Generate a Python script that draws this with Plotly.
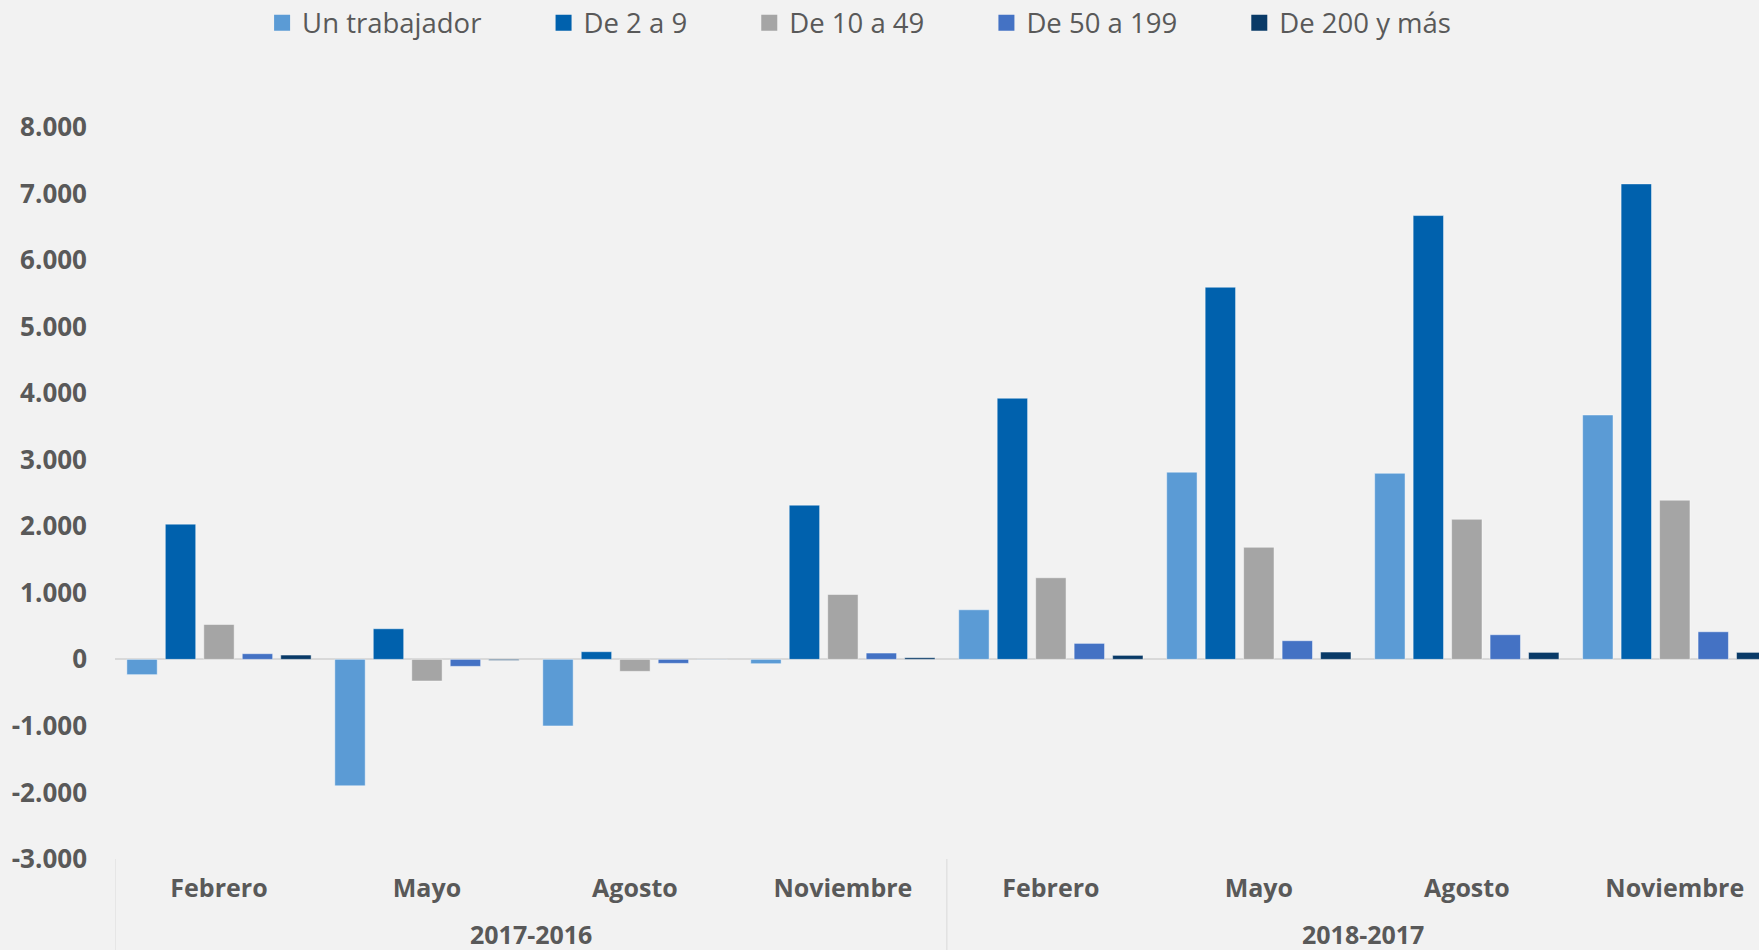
import plotly.graph_objects as go

months = ["Febrero", "Mayo", "Agosto", "Noviembre", "Febrero", "Mayo", "Agosto", "Noviembre"]
periods = ["2017-2016", "2018-2017"]
series_names = ["Un trabajador", "De 2 a 9", "De 10 a 49", "De 50 a 199", "De 200 y más"]

un_trabajador = [-230, -1900, -1000, -65, 745, 2813, 2796, 3672]
de_2_a_9 = [2032, 460, 115, 2317, 3924, 5592, 6669, 7145]
de_10_a_49 = [525, -325, -180, 976, 1226, 1684, 2105, 2392]
de_50_a_199 = [85, -105, -60, 95, 240, 280, 370, 415]
de_200_y_mas = [65, -15, -5, 25, 60, 110, 105, 105]

y_ticks = list(range(-3000, 8001, 1000))

colors = ["#5B9BD5", "#0061AD", "#A5A5A5", "#4472C4", "#093A67"]
series_values = [un_trabajador, de_2_a_9, de_10_a_49, de_50_a_199, de_200_y_mas]

x_pos = list(range(len(months)))
font_fam = "Open Sans"
txt_color = "#595959"

fig = go.Figure()
for name, vals, col in zip(series_names, series_values, colors):
    fig.add_trace(go.Bar(
        x=x_pos, y=vals, name=name, marker_color=col,
        marker_line=dict(color="rgba(255,255,255,0.45)", width=1),
        showlegend=False, legendgroup=name,
    ))
for i, (name, col) in enumerate(zip(series_names, colors)):
    label = name if i == len(series_names) - 1 else name + "\u00a0" * 8
    fig.add_trace(go.Scatter(
        x=[None], y=[None], mode="markers", name=label, legendgroup=name,
        marker=dict(symbol="square", size=16, color=col),
    ))


def fmt(v):
    s = f"{abs(v):,}".replace(",", ".")
    return ("-" if v < 0 else "") + s


fig.update_layout(
    width=1759, height=950,
    paper_bgcolor="#F2F2F2", plot_bgcolor="#F2F2F2",
    margin=dict(l=115, r=0, t=127, b=91, autoexpand=False),
    barmode="group", bargap=0.075, bargroupgap=0.21,
    legend=dict(orientation="h", xref="container", x=0.149, xanchor="left",
                yref="container", y=0.976, yanchor="middle",
                font=dict(family=font_fam, size=27.5, color=txt_color),
                bgcolor="rgba(0,0,0,0)", itemclick=False),
    xaxis=dict(range=[-0.5, 7.405], tickvals=x_pos, ticktext=months,
               showgrid=False, zeroline=False, showline=False, ticks="",
               ticklabelstandoff=12,
               tickfont=dict(family=font_fam, size=25, color=txt_color, weight="bold")),
    yaxis=dict(range=[-3000, 8000], tickvals=y_ticks, ticktext=[fmt(v) for v in y_ticks],
               showgrid=False, zeroline=True, zerolinecolor="#D9D9D9", zerolinewidth=2,
               showline=False, ticks="", ticklabelstandoff=27,
               tickfont=dict(family=font_fam, size=26, color=txt_color, weight="bold")),
)

# period labels and dividers below the axis
n_per = len(months) // len(periods)
for k, p in enumerate(periods):
    fig.add_annotation(x=k * n_per + (n_per - 1) / 2, xref="x", y=-0.103, yref="paper",
                       text=p, showarrow=False, yanchor="middle",
                       font=dict(family=font_fam, size=25, color=txt_color, weight="bold"))
    fig.add_shape(type="line", xref="x", yref="paper", x0=k * n_per - 0.5, x1=k * n_per - 0.5,
                  y0=0, y1=-0.2, line=dict(color="#D9D9D9", width=1))

fig.write_html(
    "out.html",
    config={"displayModeBar": False},
    post_script="document.body.style.margin='0';document.body.style.overflow='hidden';",
)
